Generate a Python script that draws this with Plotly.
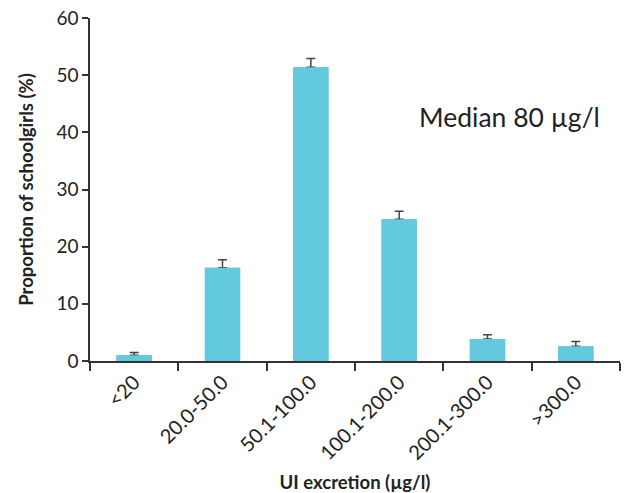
import plotly.graph_objects as go

categories = ["<20", "20.0-50.0", "50.1-100.0", "100.1-200.0", "200.1-300.0", ">300.0"]
proportions = [1.0, 16.3, 51.4, 24.8, 3.85, 2.6]
error_plus = [0.5, 1.4, 1.5, 1.4, 0.75, 0.8]
median_text = "Median 80 µg/l"

FONT = "Lato, Carlito, sans-serif"
AX = "#333333"
TXT = "#222222"
BAR = "#63C9DC"

fig = go.Figure()
# bars carrying the upper error bars
fig.add_trace(go.Bar(
    x=categories, y=proportions, width=0.4,
    marker=dict(color=BAR, line=dict(width=0)),
    error_y=dict(type="data", symmetric=False, array=error_plus,
                 arrayminus=[0] * len(error_plus),
                 color="#444444", thickness=1.5, width=4.5),
))
# identical bars on top to hide the zero-length lower caps
fig.add_trace(go.Bar(
    x=categories, y=proportions, width=0.4,
    marker=dict(color=BAR, line=dict(width=0)), hoverinfo="skip",
))

fig.update_layout(
    width=627, height=493,
    margin=dict(l=90, r=7, t=18, b=132),
    plot_bgcolor="white", paper_bgcolor="white",
    showlegend=False, barmode="overlay",
    font=dict(family=FONT, color=TXT),
    annotations=[dict(text=median_text, xref="x domain", yref="y domain",
                      x=(509 - 90) / 530, y=(361 - 117) / 343,
                      xanchor="center", yanchor="middle", showarrow=False,
                      font=dict(size=26.5, family=FONT, color=TXT))],
)

fig.update_xaxes(
    automargin=False,
    showline=True, linecolor=AX, linewidth=1.5, ticks="outside", tickson="boundaries",
    ticklen=8, tickwidth=1.5, tickcolor=AX, tickangle=-45,
    tickfont=dict(size=20, family=FONT, color=TXT),
    title=dict(text="<b>UI excretion (µg/l)</b>", font=dict(size=18.5, family=FONT, color=TXT), standoff=18),
    showgrid=False, zeroline=False,
)
fig.update_yaxes(
    automargin=False,
    range=[0, 60], dtick=10, showline=True, linecolor=AX, linewidth=1.5,
    ticks="outside", ticklen=6, tickwidth=1.5, tickcolor=AX,
    tickfont=dict(size=19, family=FONT, color=TXT),
    title=dict(text="<b>Proportion of schoolgirls (%)</b>", font=dict(size=18.5, family=FONT, color=TXT), standoff=18),
    showgrid=False, zeroline=False,
)

fig.write_html("out.html", config={"displayModeBar": False},
               post_script="document.body.style.margin='0';")
